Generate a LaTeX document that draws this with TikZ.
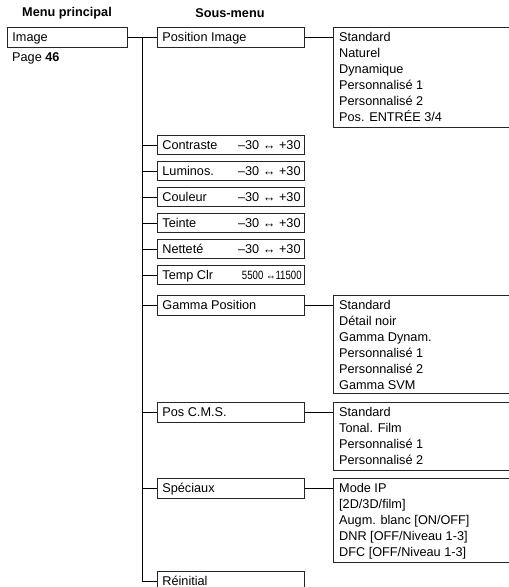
\documentclass[tikz,border=0pt]{standalone}
\usepackage{fontspec}
\setmainfont{Liberation Sans}
\newcommand{\lbox}[2]{\makebox[#1][l]{#2}}
\begin{document}
\begin{tikzpicture}[x=1pt,y=-1pt,
  txt/.style={font=\fontsize{12.7}{16}\selectfont, inner sep=0pt},
  head/.style={font=\fontsize{12.7}{16}\selectfont\bfseries, inner sep=0pt},
  frame/.style={draw=black!85, line width=0.8pt},
  conn/.style={draw=black, line width=0.9pt},
  menubox/.style={frame, font=\fontsize{12.7}{16}\selectfont, minimum height=20pt, text height=10.5pt, text depth=1.4pt, inner xsep=5pt, inner ysep=0pt, anchor=west},
  subbox/.style={menubox},
  smallbox/.style={subbox, minimum height=19pt},
  rangetxt/.style={font=\fontsize{12.7}{16}\selectfont, inner sep=0pt, anchor=east, text height=10.5pt, text depth=1.4pt},
  listbox/.style={minimum width=190pt, inner sep=0pt, anchor=north west},
  listtxt/.style={font=\fontsize{12.7}{16}\selectfont, inner sep=0pt, align=left, anchor=north west}
]
\useasboundingbox (0,0) rectangle (509,587);
\clip (0,0) rectangle (509,587);

% headings
\node[head] (h1) at (67,13) {Menu principal};
\node[head] (h2) at (230,13) {Sous-menu};

% main menu
\node[menubox] (image) at (7,37) {\lbox{110pt}{Image}};
\node[txt, anchor=west, text height=10.5pt, text depth=1.4pt] (page) at (12,57) {Page \textbf{46}};

% sub-menu boxes
\node[subbox] (posimg) at (157,37) {\lbox{137pt}{Position Image}};
\node[smallbox] (contr) at (157,145) {\lbox{137pt}{Contraste}};
\node[smallbox] (lumin) at (157,171) {\lbox{137pt}{Luminos.}};
\node[smallbox] (coul) at (157,197) {\lbox{137pt}{Couleur}};
\node[smallbox] (teinte) at (157,223) {\lbox{137pt}{Teinte}};
\node[smallbox] (nett) at (157,249) {\lbox{137pt}{Netteté}};
\node[smallbox] (temp) at (157,275) {\lbox{137pt}{Temp Clr}};
\node[subbox] (gamma) at (157,305) {\lbox{137pt}{Gamma Position}};
\node[subbox] (cms) at (157,412) {\lbox{137pt}{Pos C.M.S.}};
\node[subbox] (spec) at (157,488) {\lbox{137pt}{Spéciaux}};
\node[subbox] (reinit) at (157,581) {\lbox{137pt}{Réinitial}};

% ranges
\node[rangetxt] (r1) at ([xshift=-4pt]contr.east) {–30 ↔ +30};
\node[rangetxt] (r2) at ([xshift=-4pt]lumin.east) {–30 ↔ +30};
\node[rangetxt] (r3) at ([xshift=-4pt]coul.east) {–30 ↔ +30};
\node[rangetxt] (r4) at ([xshift=-4pt]teinte.east) {–30 ↔ +30};
\node[rangetxt] (r5) at ([xshift=-4pt]nett.east) {–30 ↔ +30};
\node[rangetxt] (r6) at ([xshift=-3pt]temp.east) {\scalebox{0.8}[1]{\fontsize{12}{14}\selectfont 5500 ↔11500}};

% list boxes
\node[listbox, minimum height=99.5pt] (L1) at (333,27) {};
\node[listbox, minimum height=98pt] (L2) at (333,295) {};
\node[listbox, minimum height=68pt] (L3) at (333,402) {};
\node[listbox, minimum height=84pt] (L4) at (333,478) {};
\foreach \b in {L1,L2,L3,L4}{
  \draw[frame] (\b.north east) -- (\b.north west) -- (\b.south west) -- (\b.south east);
}
\node[listtxt] (t1) at ([xshift=6pt,yshift=-5.3pt]L1.north west)
  {Standard\\Naturel\\Dynamique\\Personnalisé 1\\Personnalisé 2\\Pos. ENTRÉE 3/4};
\node[listtxt] (t2) at ([xshift=6pt,yshift=-5.3pt]L2.north west)
  {Standard\\Détail noir\\Gamma Dynam.\\Personnalisé 1\\Personnalisé 2\\Gamma SVM};
\node[listtxt] (t3) at ([xshift=6pt,yshift=-5.3pt]L3.north west)
  {Standard\\Tonal. Film\\Personnalisé 1\\Personnalisé 2};
\node[listtxt] (t4) at ([xshift=6pt,yshift=-5.3pt]L4.north west)
  {Mode IP\\{[2D/3D/film]}\\Augm. blanc [ON/OFF]\\DNR [OFF/Niveau 1-3]\\DFC [OFF/Niveau 1-3]};

% connectors
\coordinate (trunktop) at (142,37);
\draw[conn] (image.east) -- (posimg.west);
\draw[conn] (trunktop) -- (trunktop |- reinit.west) -- (reinit.west);
\foreach \s in {contr,lumin,coul,teinte,nett,temp,gamma,cms,spec}{
  \draw[conn] (trunktop |- \s.west) -- (\s.west);
}
\draw[conn] (posimg.east) -- (L1.west |- posimg.east);
\draw[conn] (gamma.east) -- (L2.west |- gamma.east);
\draw[conn] (cms.east) -- (L3.west |- cms.east);
\draw[conn] (spec.east) -- (L4.west |- spec.east);
\end{tikzpicture}
\end{document}
